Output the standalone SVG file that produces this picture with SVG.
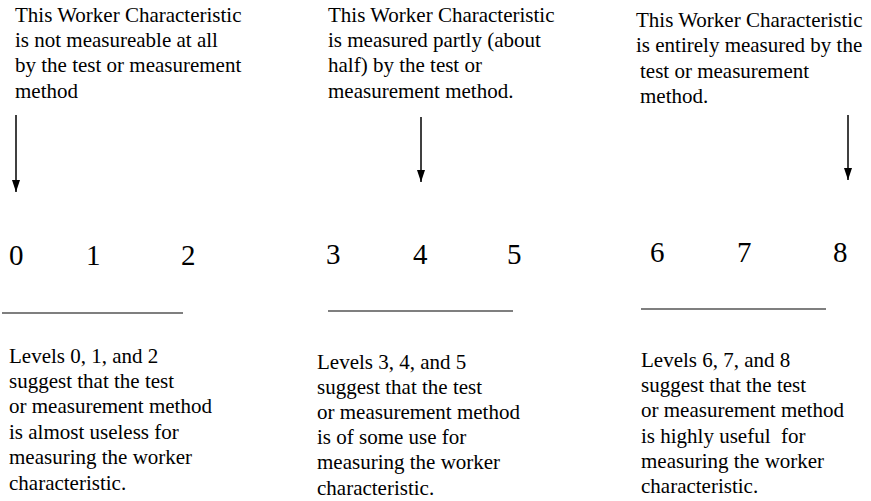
<svg xmlns="http://www.w3.org/2000/svg" width="871" height="501" viewBox="0 0 871 501">
<style>
.t{font-family:'Liberation Serif','Times New Roman',serif;font-size:21px;fill:#000}
.n{font-family:'Liberation Serif','Times New Roman',serif;font-size:29px;fill:#000}
.rule{stroke:#000;stroke-width:1.2}
.arr{stroke:#000;stroke-width:1.5;fill:none;marker-end:url(#ah)}
</style>
<defs>
<marker id="ah" viewBox="0 0 12 8" refX="12" refY="4" markerWidth="12" markerHeight="8" markerUnits="userSpaceOnUse" orient="auto">
<path d="M0,0 L12,4 L0,8 Z" fill="#000"/>
</marker>
</defs>
<rect width="871" height="501" fill="#fff"/>
<g id="col-low">
<text class="t" x="15" y="22">This Worker Characteristic</text>
<text class="t" x="15" y="47">is not measureable at all</text>
<text class="t" x="15" y="72">by the test or measurement</text>
<text class="t" x="15" y="98">method</text>
<text class="n" x="9" y="265">0</text>
<text class="n" x="86" y="265">1</text>
<text class="n" x="181" y="265">2</text>
<line class="rule" x1="2" y1="313" x2="183" y2="313"/>
<text class="t" x="9" y="363">Levels 0, 1, and 2</text>
<text class="t" x="9" y="388">suggest that the test</text>
<text class="t" x="9" y="413">or measurement method</text>
<text class="t" x="9" y="439">is almost useless for</text>
<text class="t" x="9" y="464">measuring the worker</text>
<text class="t" x="9" y="490">characteristic.</text>
</g>
<g id="col-mid">
<text class="t" x="328" y="22">This Worker Characteristic</text>
<text class="t" x="328" y="47">is measured partly (about</text>
<text class="t" x="328" y="72">half) by the test or</text>
<text class="t" x="328" y="98">measurement method.</text>
<text class="n" x="326" y="264">3</text>
<text class="n" x="413" y="264">4</text>
<text class="n" x="507" y="264">5</text>
<line class="rule" x1="328" y1="311" x2="513" y2="311"/>
<text class="t" x="317" y="369">Levels 3, 4, and 5</text>
<text class="t" x="317" y="394">suggest that the test</text>
<text class="t" x="317" y="419">or measurement method</text>
<text class="t" x="317" y="444">is of some use for</text>
<text class="t" x="317" y="469">measuring the worker</text>
<text class="t" x="317" y="495">characteristic.</text>
</g>
<g id="col-high">
<text class="t" x="636" y="27">This Worker Characteristic</text>
<text class="t" x="636" y="52">is entirely measured by the</text>
<text class="t" x="640" y="78">test or measurement</text>
<text class="t" x="640" y="103">method.</text>
<text class="n" x="650" y="262">6</text>
<text class="n" x="737" y="262">7</text>
<text class="n" x="833" y="262">8</text>
<line class="rule" x1="641" y1="309" x2="826" y2="309"/>
<text class="t" x="641" y="367">Levels 6, 7, and 8</text>
<text class="t" x="641" y="392">suggest that the test</text>
<text class="t" x="641" y="417">or measurement method</text>
<text class="t" x="641" y="443" xml:space="preserve">is highly useful  for</text>
<text class="t" x="641" y="468">measuring the worker</text>
<text class="t" x="641" y="493">characteristic.</text>
</g>
<g id="connectors">
<line class="arr" x1="16" y1="115" x2="16" y2="192"/>
<line class="arr" x1="421" y1="117" x2="421" y2="182"/>
<line class="arr" x1="848" y1="115" x2="848" y2="180"/>
</g>
</svg>
